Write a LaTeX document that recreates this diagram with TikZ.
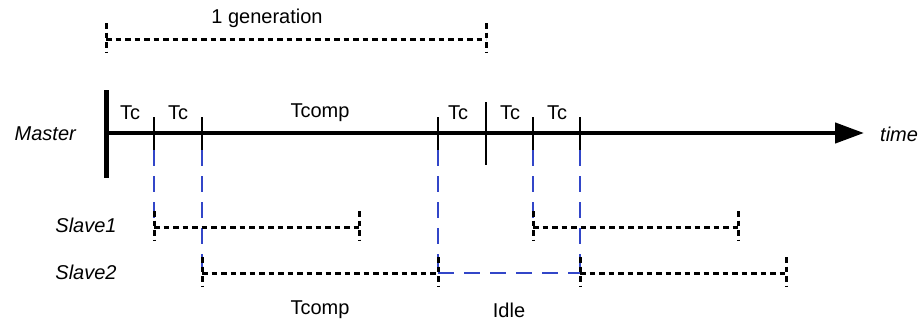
\documentclass[tikz,border=0pt]{standalone}
\usepackage{fontspec}
\setmainfont{Liberation Sans}
\usetikzlibrary{arrows.meta}

\begin{document}
\begin{tikzpicture}[x=1pt, y=-1pt,
  every node/.style = {font=\fontsize{20}{24}\selectfont, inner sep=0pt},
  who/.style = {font=\fontsize{20}{24}\selectfont\itshape},
  span/.style = {line width=3pt, dash pattern=on 5.5pt off 4pt},
  sync/.style = {draw={rgb,255:red,50;green,70;blue,200}, line width=1.3pt,
    dash pattern=on 16pt off 10pt},
  tick/.style = {line width=1.5pt}]
  \useasboundingbox (0,0) rectangle (919,327);

  % time points on the master line
  \coordinate (m0) at (106,133);
  \coordinate (c1) at (154,133);
  \coordinate (c2) at (202,133);
  \coordinate (c3) at (438,133);
  \coordinate (c4) at (486,133);
  \coordinate (c5) at (533,133);
  \coordinate (c6) at (580,133);
  \coordinate (tip) at (864,133);

  % slave spans
  \coordinate (s1a) at (154,227);
  \coordinate (s1b) at (359,227);
  \coordinate (s1c) at (533,227);
  \coordinate (s1d) at (738,227);
  \coordinate (s2a) at (202,273);
  \coordinate (s2b) at (438,273);
  \coordinate (s2c) at (580,273);
  \coordinate (s2d) at (786,273);

  % one generation
  \coordinate (g0) at (106,39);
  \coordinate (g1) at (486,39);

  % labels
  \node (gen) at (267,18) {1 generation};
  \node[who, anchor=east] (master) at (76,134) {Master};
  \node[who, anchor=west] (time) at (880,134) {time};
  \node[who] (slave1) at (86,225) {Slave1};
  \node[who] (slave2) at (86,272) {Slave2};
  \foreach \x [count=\i] in {130,178,458,510,557}
    \node (tc\i) at (\x,113) {Tc};
  \node (tcomp) at (320,113) {Tcomp};
  \node (tcomp2) at (320,310) {Tcomp};
  \node (idle) at (509,310) {Idle};

  % master line
  \draw[line width=4.5pt, -{Triangle[length=29pt,width=20pt]}] (m0) -- (tip);
  \draw[line width=5pt] ([yshift=43pt]m0) -- ([yshift=-45pt]m0);
  \foreach \c in {c1,c2,c3,c5,c6}
    \draw[tick] ([yshift=16pt]\c) -- ([yshift=-17pt]\c);
  \draw[tick] ([yshift=31pt]c4) -- ([yshift=-32pt]c4);

  % synchronisation lines
  \draw[sync] ([yshift=-17pt]c1) -- (s1a);
  \draw[sync] ([yshift=-17pt]c2) -- (s2a);
  \draw[sync] ([yshift=-17pt]c3) -- (s2b);
  \draw[sync] ([yshift=-17pt]c5) -- (s1c);
  \draw[sync] ([yshift=-17pt]c6) -- (s2c);
  \draw[sync] (s2b) -- (s2c);

  % dotted spans with end marks
  \foreach \a/\b in {g0/g1,s1a/s1b,s1c/s1d,s2a/s2b,s2c/s2d} {
    \draw[span] (\a) -- (\b);
    \draw[span] ([yshift=16pt]\a) -- ([yshift=-13pt]\a);
    \draw[span] ([yshift=16pt]\b) -- ([yshift=-13pt]\b);
  }
\end{tikzpicture}
\end{document}
